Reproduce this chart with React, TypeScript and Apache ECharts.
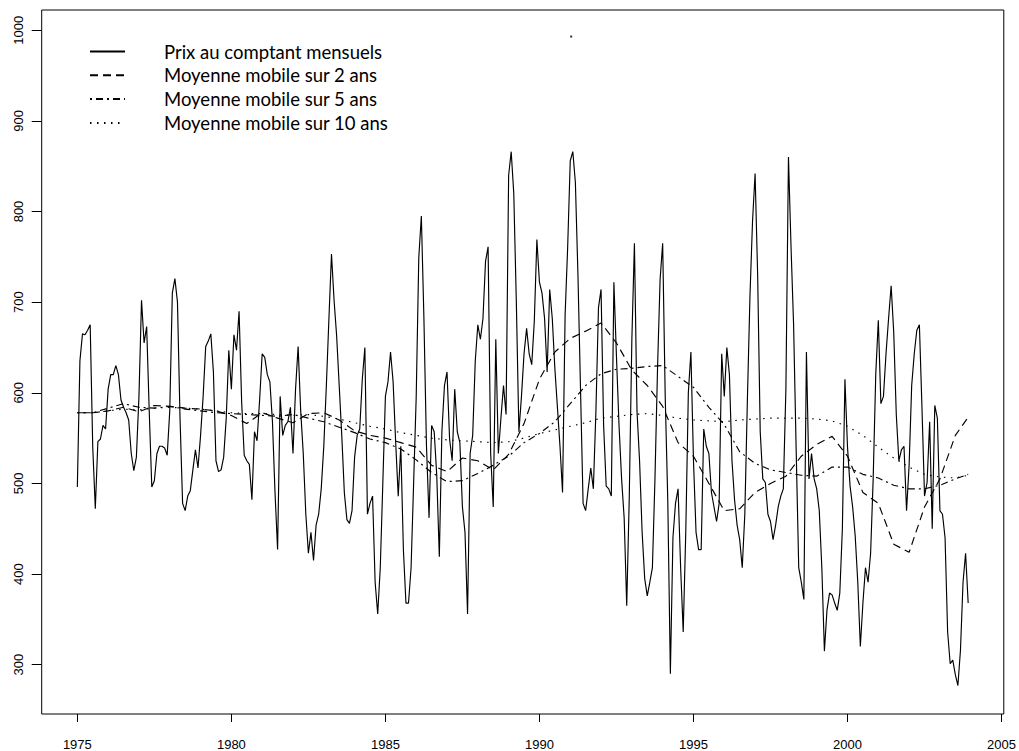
import React, { useEffect, useRef } from "react";
import * as echarts from "echarts";

// Monthly spot prices, Jan 1975 .. Dec 2003
const spot: number[] = [
  496, 635, 665, 664, 669, 675, 540, 472, 546, 549, 564, 560,
  604, 620, 620, 630, 620, 592, 584, 578, 570, 533, 514, 529,
  596, 702, 655, 673, 580, 496, 503, 533, 541, 541, 539, 531,
  580, 710, 726, 700, 572, 478, 470, 486, 492, 515, 537, 517,
  553, 596, 651, 657, 665, 623, 525, 513, 515, 529, 572, 647,
  604, 664, 647, 690, 590, 531, 525, 521, 482, 557, 547, 592,
  643, 639, 620, 612, 568, 490, 427, 596, 553, 564, 568, 584,
  533, 604, 651, 580, 533, 466, 423, 446, 415, 454, 466, 494,
  541, 608, 682, 753, 702, 663, 608, 553, 490, 460, 456, 470,
  529, 553, 560, 615, 650, 466, 478, 486, 391, 356, 407, 501,
  596, 612, 645, 612, 545, 486, 541, 427, 368, 368, 407, 501,
  596, 749, 795, 682, 541, 462, 564, 557, 509, 419, 557, 608,
  623, 549, 525, 604, 557, 545, 474, 446, 356, 533, 553, 635,
  675, 659, 682, 745, 761, 533, 474, 659, 533, 572, 608, 576,
  840, 866, 820, 700, 557, 596, 643, 671, 643, 631, 679, 769,
  722, 710, 682, 623, 714, 682, 627, 584, 541, 490, 686, 761,
  856, 866, 832, 730, 604, 478, 470, 494, 517, 494, 580, 694,
  714, 564, 497, 494, 486, 722, 640, 564, 505, 462, 365, 486,
  659, 765, 580, 525, 446, 395, 376, 391, 407, 505, 627, 725,
  765, 595, 480, 290, 440, 478, 494, 407, 336, 446, 600, 645,
  525, 446, 427, 427, 560, 541, 533, 490, 474, 458, 478, 643,
  596, 650, 620, 525, 482, 454, 438, 407, 466, 592, 706, 789,
  842, 730, 557, 505, 501, 466, 458, 438, 454, 474, 486, 494,
  604, 860, 761, 675, 537, 407, 391, 372, 645, 505, 533, 505,
  494, 470, 407, 315, 360, 379, 377, 368, 360, 379, 450, 615,
  540, 497, 474, 442, 391, 320, 368, 407, 391, 423, 505, 620,
  680, 588, 596, 643, 682, 718, 667, 576, 525, 537, 541, 470,
  520, 608, 643, 669, 675, 584, 486, 501, 568, 450, 586, 572,
  470, 466, 440, 336, 301, 305, 289, 277, 316, 391, 423, 368,
];

// Moving averages, read at half-year points
const maYears: number[] = [
  1975.0, 1975.5, 1976.0, 1976.5, 1977.0, 1977.5, 1978.0, 1978.5, 1979.0, 1979.5,
  1980.0, 1980.5, 1981.0, 1981.5, 1982.0, 1982.5, 1983.0, 1983.5, 1984.0, 1984.5,
  1985.0, 1985.5, 1986.0, 1986.5, 1987.0, 1987.5, 1988.0, 1988.5, 1989.0, 1989.5,
  1990.0, 1990.5, 1991.0, 1991.5, 1992.0, 1992.5, 1993.0, 1993.5, 1994.0, 1994.5,
  1995.0, 1995.5, 1996.0, 1996.5, 1997.0, 1997.5, 1998.0, 1998.5, 1999.0, 1999.5,
  2000.0, 2000.5, 2001.0, 2001.5, 2002.0, 2002.5, 2003.0, 2003.5, 2003.917,
];
const ma2: number[] = [
  578, 578, 580, 584, 579, 586, 585, 583, 582, 580,
  575, 566, 578, 572, 567, 577, 578, 570, 558, 553,
  550, 545, 540, 520, 513, 528, 525, 515, 532, 566,
  615, 645, 660, 668, 677, 655, 625, 608, 585, 545,
  530, 500, 470, 472, 490, 500, 508, 530, 543, 552,
  530, 490, 478, 433, 424, 474, 505, 553, 573,
];
const ma5: number[] = [
  578, 578, 583, 588, 584, 583, 585, 582, 580, 578,
  577, 576, 575, 574, 576, 572, 568, 562, 556, 549,
  545, 538, 526, 512, 502, 503, 511, 520, 530, 545,
  555, 568, 588, 608, 621, 626, 627, 629, 630, 618,
  606, 584, 565, 535, 522, 515, 512, 509, 508, 518,
  518, 510, 506, 498, 494, 494, 498, 505, 510,
];
const ma10: number[] = [
  578, 578, 580, 582, 581, 583, 584, 583, 582, 580,
  578, 577, 577, 576, 575, 576, 574, 571, 567, 563,
  560, 556, 553, 550, 548, 547, 546, 545, 546, 550,
  555, 559, 563, 567, 572, 574, 576, 577, 575, 572,
  570, 569, 568, 570, 571, 572, 572, 572, 571, 569,
  563, 553, 540, 528, 518, 510, 507, 506, 509,
];
const isolatedPoint: [number, number][] = [[1991.03, 993]];

const xTicks: number[] = [1975, 1980, 1985, 1990, 1995, 2000, 2005];
const yTicks: number[] = [300, 400, 500, 600, 700, 800, 900, 1000];

const seriesNames: string[] = [
  "Prix au comptant mensuels",
  "Moyenne mobile sur 2 ans",
  "Moyenne mobile sur 5 ans",
  "Moyenne mobile sur 10 ans",
];

export default function App() {
  const ref = useRef<HTMLDivElement>(null);
  useEffect(() => {
    if (!ref.current) return;
    const chart = echarts.init(ref.current, undefined, { renderer: "svg" });
    const spotData = spot.map((v, i) => [1975 + i / 12, v]);
    const zip = (arr: number[]) => arr.map((v, i) => [maYears[i], v]);
    const axisFont = { fontFamily: "Liberation Sans", fontSize: 13, color: "#000" };
    const lw = 1.15;
    chart.setOption({
      animation: false,
      backgroundColor: "#fff",
      grid: {
        left: 41.7,
        right: 14,
        top: 10,
        bottom: 36,
        show: true,
        borderColor: "#000",
        borderWidth: 1,
        backgroundColor: "transparent",
      },
      legend: {
        data: seriesNames,
        orient: "vertical",
        left: 89,
        top: 42,
        padding: 0,
        itemWidth: 35,
        itemHeight: 14,
        itemGap: 4.8,
        selectedMode: false,
        itemStyle: { opacity: 0 },
        textStyle: {
          fontFamily: "Lato",
          fontSize: 18.5,
          color: "#000",
          padding: [0, 0, 0, 34],
          lineHeight: 18,
        },
      },
      xAxis: {
        type: "value",
        min: 1973.843,
        max: 2005.073,
        axisLine: { show: false },
        splitLine: { show: false },
        axisTick: {
          show: true,
          length: 8,
          lineStyle: { color: "#000", width: 1 },
          customValues: xTicks,
        },
        axisLabel: {
          ...axisFont,
          margin: 24,
          customValues: xTicks,
          formatter: (v: number) => String(Math.round(v)),
        },
      },
      yAxis: {
        type: "value",
        min: 245.6,
        max: 1022.3,
        axisLine: { show: false },
        splitLine: { show: false },
        axisTick: {
          show: true,
          length: 10,
          lineStyle: { color: "#000", width: 1 },
          customValues: yTicks,
        },
        axisLabel: {
          ...axisFont,
          rotate: 90,
          margin: 17,
          customValues: yTicks,
          formatter: (v: number) => String(Math.round(v)),
        },
      },
      series: [
        {
          name: seriesNames[0],
          type: "line",
          data: spotData,
          symbol: "none",
          lineStyle: { color: "#000", width: lw },
          itemStyle: { color: "#000" },
        },
        {
          name: seriesNames[1],
          type: "line",
          data: zip(ma2),
          symbol: "none",
          lineStyle: { color: "#000", width: lw, type: [8, 5] },
          itemStyle: { color: "#000" },
        },
        {
          name: seriesNames[2],
          type: "line",
          data: zip(ma5),
          symbol: "none",
          lineStyle: { color: "#000", width: lw, type: [2, 4, 7, 4] },
          itemStyle: { color: "#000" },
        },
        {
          name: seriesNames[3],
          type: "line",
          data: zip(ma10),
          symbol: "none",
          lineStyle: { color: "#000", width: lw, type: [1.5, 5.5] },
          itemStyle: { color: "#000" },
        },
        {
          name: "point",
          type: "scatter",
          data: isolatedPoint,
          symbol: "rect",
          symbolSize: 2,
          itemStyle: { color: "#000" },
        },
      ],
    });
    return () => chart.dispose();
  }, []);
  return (
    <div
      ref={ref}
      style={{ position: "absolute", left: 0, top: 0, width: 1019, height: 751, background: "#fff" }}
    />
  );
}
